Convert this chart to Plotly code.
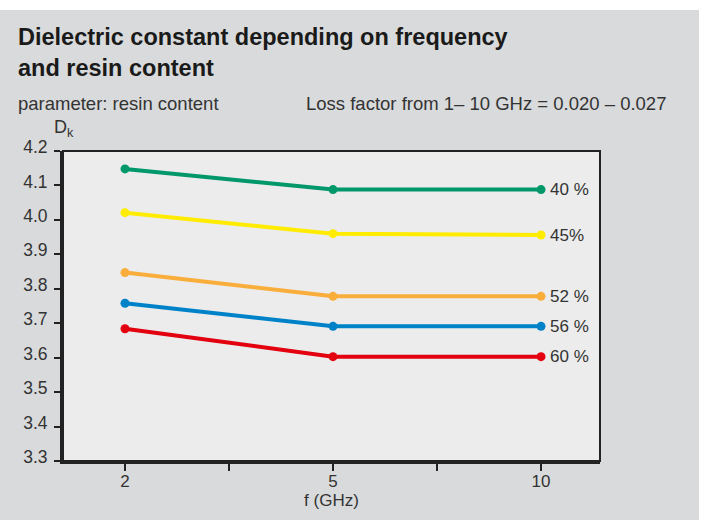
import plotly.graph_objects as go

# frequency axis: labelled ticks 2, 5, 10 with unlabelled ticks between
tick_labels = ["2", "", "5", "", "10"]
freqs = ["2", "5", "10"]

resin = ["40 %", "45%", "52 %", "56 %", "60 %"]
dk_40 = [4.148, 4.088, 4.088]
dk_45 = [4.021, 3.960, 3.956]
dk_52 = [3.847, 3.778, 3.778]
dk_56 = [3.758, 3.691, 3.691]
dk_60 = [3.684, 3.603, 3.603]
series = [dk_40, dk_45, dk_52, dk_56, dk_60]
colors = ["#00986a", "#ffec00", "#f9ae3c", "#0082c9", "#e3000f"]

W, H = 705, 520
L, R, T, B = 63, 105, 151, 59
PW, PH = W - L - R, H - T - B


def px_x(x):
    return (x - L) / PW


def px_y(y):
    return (H - B - y) / PH


FONT = "Liberation Sans, Arial, sans-serif"
TXT = "#333333"

x_pos = [tick_labels.index(f) for f in freqs]

fig = go.Figure()
for name, vals, c in zip(resin, series, colors):
    fig.add_trace(go.Scatter(
        x=x_pos, y=vals, mode="lines+markers", name=name,
        line=dict(color=c, width=4), marker=dict(color=c, size=9),
        showlegend=False,
    ))
    fig.add_annotation(x=x_pos[-1], y=vals[-1], text=name, showarrow=False,
                       xanchor="left", xshift=7, font=dict(size=17, color=TXT, family=FONT))

fig.update_xaxes(
    range=[-0.596, 4.567], tickmode="array", tickvals=list(range(len(tick_labels))),
    ticktext=tick_labels, ticks="outside", ticklen=7, tickwidth=1.5, tickcolor="#222",
    showline=True, linewidth=3, linecolor="#222", showgrid=False, zeroline=False,
    tickfont=dict(size=17, color=TXT, family=FONT), ticklabelstandoff=-4,
    title=dict(text="f (GHz)", font=dict(size=17, color=TXT, family=FONT), standoff=0),
)
fig.update_yaxes(
    range=[3.3, 4.2], dtick=0.1, tickformat=".1f", ticks="outside", ticklen=6,
    tickwidth=1.5, tickcolor="#222", showline=True, linewidth=3, linecolor="#222",
    showgrid=False, zeroline=False, tickfont=dict(size=17.5, color=TXT, family=FONT),
    ticklabelshift=-4, ticklabelstandoff=3,
)

# top/right frame of the plot area
fig.add_shape(type="rect", xref="paper", yref="paper", x0=0, x1=1, y0=0, y1=1,
              line=dict(color="#222", width=2))
# white strips round the grey panel
fig.add_shape(type="rect", xref="paper", yref="paper", x0=px_x(-5), x1=px_x(W + 5),
              y0=px_y(10), y1=px_y(-5), fillcolor="white", line_width=0, layer="above")
fig.add_shape(type="rect", xref="paper", yref="paper", x0=px_x(699), x1=px_x(W + 5),
              y0=px_y(H + 5), y1=px_y(-5), fillcolor="white", line_width=0, layer="above")

fig.add_annotation(xref="paper", yref="paper", x=px_x(16), y=px_y(37), xanchor="left",
                   yanchor="middle", showarrow=False,
                   text="<b>Dielectric constant depending on frequency</b>",
                   font=dict(size=23.5, color="#1a1a1a", family=FONT))
fig.add_annotation(xref="paper", yref="paper", x=px_x(16), y=px_y(68), xanchor="left",
                   yanchor="middle", showarrow=False, text="<b>and resin content</b>",
                   font=dict(size=23.5, color="#1a1a1a", family=FONT))
fig.add_annotation(xref="paper", yref="paper", x=px_x(16), y=px_y(103), xanchor="left",
                   yanchor="middle", showarrow=False, text="parameter: resin content",
                   font=dict(size=18.5, color=TXT, family=FONT))
fig.add_annotation(xref="paper", yref="paper", x=px_x(304), y=px_y(103), xanchor="left",
                   yanchor="middle", showarrow=False,
                   text="Loss factor from 1– 10 GHz = 0.020 – 0.027",
                   font=dict(size=18.5, color=TXT, family=FONT))
fig.add_annotation(xref="paper", yref="paper", x=px_x(52), y=px_y(129), xanchor="left",
                   yanchor="middle", showarrow=False, text="D<sub>k</sub>",
                   font=dict(size=18, color=TXT, family=FONT))

fig.update_layout(
    width=W, height=H, margin=dict(l=L, r=R, t=T, b=B),
    paper_bgcolor="#d9dadb", plot_bgcolor="#ebeceb",
)
fig.write_html("out.html", config={"displayModeBar": False},
               post_script="document.body.style.margin='0';")
